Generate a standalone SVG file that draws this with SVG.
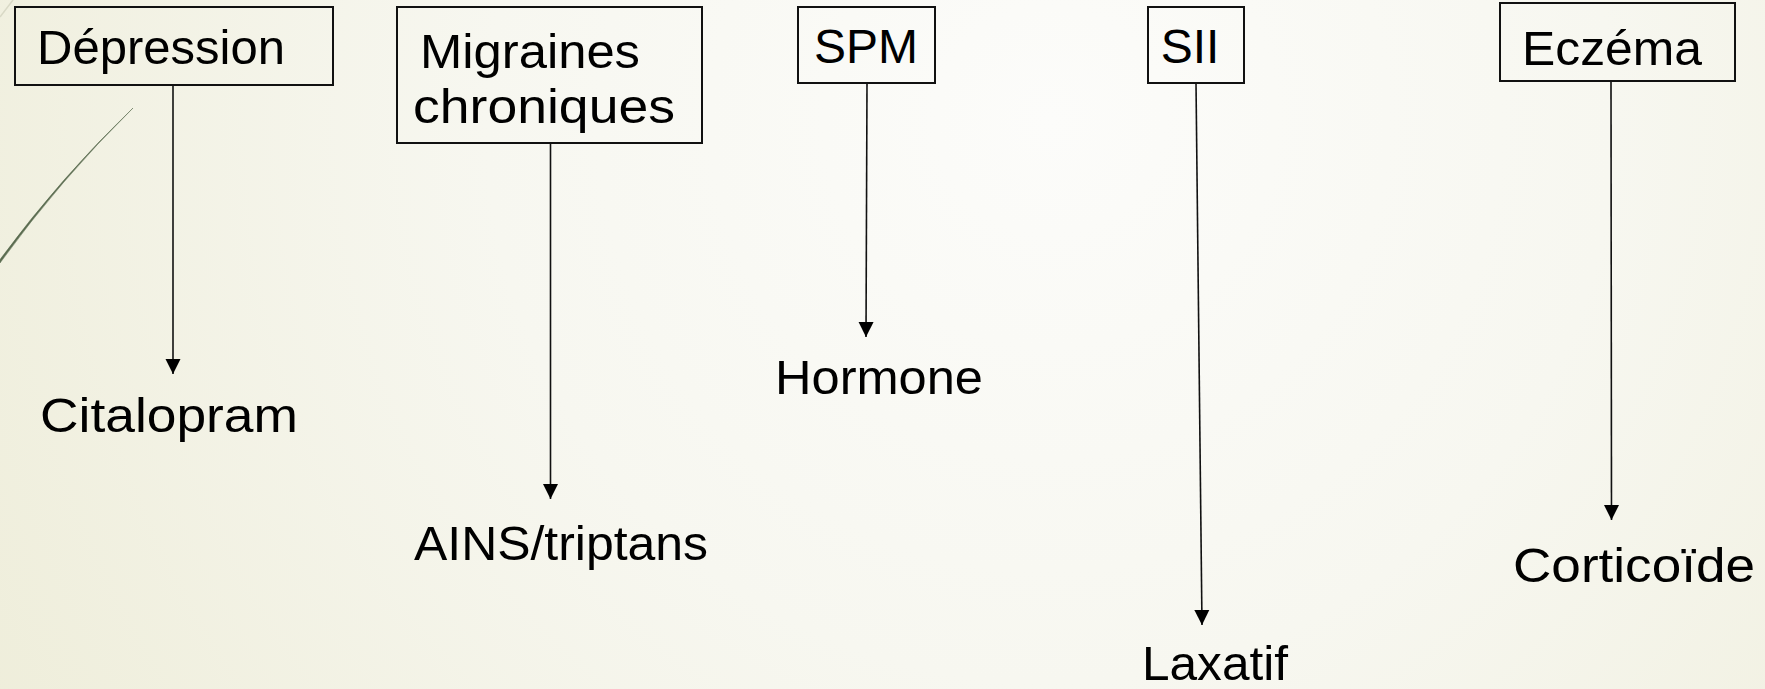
<svg xmlns="http://www.w3.org/2000/svg" width="1765" height="689" viewBox="0 0 1765 689">
<defs>
<radialGradient id="bg" cx="1050" cy="120" r="1250" gradientUnits="userSpaceOnUse">
<stop offset="0" stop-color="#fcfcfa"/>
<stop offset="0.45" stop-color="#f7f7f0"/>
<stop offset="1" stop-color="#eeedd9"/>
</radialGradient>
<marker id="arr" markerUnits="userSpaceOnUse" markerWidth="16" markerHeight="16" viewBox="0 0 16 16" refX="15" refY="8" orient="auto">
<path d="M0,0.5 L15,8 L0,15.5 Z" fill="#000"/>
</marker>
<style>
.box{fill:none;stroke:#111;stroke-width:2}
.lbl{font-family:"Liberation Sans",Arial,sans-serif;font-size:48px;fill:#000}
.con{stroke:#111;stroke-width:1.6;fill:none}
</style>
</defs>
<rect width="1765" height="689" fill="url(#bg)"/>
<g id="decor">
<path d="M0,17 L13,0" stroke="#d9d9c6" stroke-width="1.5" fill="none"/>
<path d="M133,108 Q60,180 0,263 L0,259.5 Q60,178 133,108 Z" fill="#5b6c50" stroke="#5b6c50" stroke-width="0.5"/>
</g>
<g id="connectors">
<line class="con" x1="173" y1="85" x2="173" y2="374" marker-end="url(#arr)"/>
<line class="con" x1="550.5" y1="143" x2="550.5" y2="499" marker-end="url(#arr)"/>
<line class="con" x1="867" y1="83" x2="866" y2="337" marker-end="url(#arr)"/>
<line class="con" x1="1196" y1="83" x2="1202" y2="625" marker-end="url(#arr)"/>
<line class="con" x1="1611" y1="81" x2="1611.5" y2="520" marker-end="url(#arr)"/>
</g>
<g id="node-depression">
<rect class="box" x="15" y="7" width="318" height="78"/>
<text class="lbl" x="37" y="64" textLength="248" lengthAdjust="spacingAndGlyphs">Dépression</text>
</g>
<g id="node-migraines">
<rect class="box" x="397" y="7" width="305" height="136"/>
<text class="lbl" x="420" y="68" textLength="220" lengthAdjust="spacingAndGlyphs">Migraines</text>
<text class="lbl" x="413" y="123" textLength="262" lengthAdjust="spacingAndGlyphs">chroniques</text>
</g>
<g id="node-spm">
<rect class="box" x="798" y="7" width="137" height="76"/>
<text class="lbl" x="866" y="63" font-size="46" text-anchor="middle">SPM</text>
</g>
<g id="node-sii">
<rect class="box" x="1148" y="7" width="96" height="76"/>
<text class="lbl" x="1190" y="63" text-anchor="middle">SII</text>
</g>
<g id="node-eczema">
<rect class="box" x="1500" y="3" width="235" height="78"/>
<text class="lbl" x="1522" y="65" textLength="180" lengthAdjust="spacingAndGlyphs">Eczéma</text>
</g>
<g id="node-citalopram">
<text class="lbl" x="40" y="432" textLength="258" lengthAdjust="spacingAndGlyphs">Citalopram</text>
</g>
<g id="node-ains">
<text class="lbl" x="414" y="560" textLength="294" lengthAdjust="spacingAndGlyphs">AINS/triptans</text>
</g>
<g id="node-hormone">
<text class="lbl" x="775" y="394" textLength="208" lengthAdjust="spacingAndGlyphs">Hormone</text>
</g>
<g id="node-laxatif">
<text class="lbl" x="1142" y="680" textLength="146" lengthAdjust="spacingAndGlyphs">Laxatif</text>
</g>
<g id="node-corticoide">
<text class="lbl" x="1513" y="582" textLength="242" lengthAdjust="spacingAndGlyphs">Corticoïde</text>
</g>
</svg>
